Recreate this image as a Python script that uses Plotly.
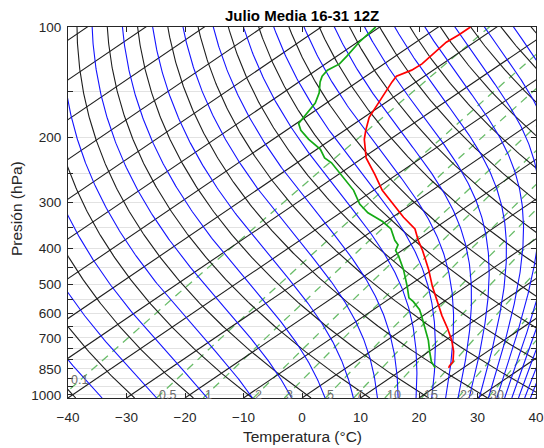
import numpy as np
import plotly.graph_objects as go

# ---------------- text ----------------
TITLE = "Julio Media 16-31 12Z"
X_TITLE = "Temperatura (°C)"
Y_TITLE = "Presión (hPa)"

# ---------------- axes ----------------
x_ticks = [-40, -30, -20, -10, 0, 10, 20, 30, 40]
p_ticks = list(range(100, 1001, 50))
p_labelled = [100, 200, 300, 400, 500, 600, 700, 850, 1000]

# ---------------- sounding ----------------
temp_p = [100, 105, 110, 120, 126, 131, 136, 141, 151, 161, 176, 191, 202, 227, 252,
          278, 303, 329, 354, 380, 405, 456, 507, 558, 609, 660, 711, 762, 813, 833, 845]
temp_T = [-64.5, -64.5, -64.8, -64.0, -63.5, -63.7, -64.8, -64.1, -62.6, -61.1, -59.1,
          -56.4, -54.4, -49.4, -43.7, -38.5, -33.2, -28.1, -23.2, -19.8, -16.5, -10.7,
          -5.8, -1.1, 3.2, 7.4, 11.1, 14.2, 16.7, 17.1, 17.5]

dew_p = [100, 105, 110, 120, 126, 131, 136, 141, 151, 161, 176, 183, 191, 202, 215, 227,
         234, 252, 278, 303, 320, 329, 338, 354, 380, 391, 405, 421, 456, 507, 545, 558,
         587, 609, 660, 711, 762, 813, 845]
dew_Td = [-80.7, -80.2, -79.7, -78.3, -77.6, -78.1, -77.5, -76.4, -73.8, -71.9, -70.4,
          -69.6, -67.5, -63.9, -59.4, -56.5, -54.1, -49.5, -43.4, -38.9, -35.3, -32.9,
          -30.6, -27.3, -23.8, -22.1, -21.1, -19.0, -15.0, -10.1, -6.9, -5.2, -2.1, -0.3,
          3.5, 7.1, 10.1, 13.0, 15.2]

# ---------------- background line families ----------------
isotherms_C = list(range(-130, 41, 10))
dry_theta_C = list(range(-40, 201, 10))
moist_thetae_C = list(range(-35, 196, 10))
mix_ratios = [0.1, 0.5, 1, 2, 3, 5, 7, 10, 15, 22, 30]
mix_labels = ["0.1", "0.5", "1", "2", "3", "5", "7", "10", "15", "22", "30"]

P_BOT = 1020.0
P_TOP = 100.0
SKEW = 92.5
KAPPA = 0.286

p_grid = np.geomspace(P_BOT, P_TOP * 0.98, 220)


def skew_x(T, p):
    return np.asarray(T) + SKEW * np.log10(P_BOT / np.asarray(p, dtype=float))


def es(Tc):
    return 6.112 * np.exp(17.67 * Tc / (Tc + 243.5))


def thetae(TK, p):
    e = np.minimum(es(TK - 273.15), 0.5 * p)
    r = 0.622 * e / (p - e)
    return TK * (1000.0 / p) ** KAPPA * np.exp(2.5e6 * r / (1004.0 * TK))


def moist_T(the, p):
    lo = np.full_like(p, 90.0)
    hi = np.full_like(p, 345.0)
    for _ in range(60):
        mid = 0.5 * (lo + hi)
        f = thetae(mid, p) - the
        hi = np.where(f > 0, mid, hi)
        lo = np.where(f > 0, lo, mid)
    return 0.5 * (lo + hi) - 273.15


def join(curves):
    xs, ys = [], []
    for x, y in curves:
        xs += list(np.round(x, 4)) + [None]
        ys += list(np.round(y, 3)) + [None]
    return xs, ys


iso_curves = [(skew_x(np.full_like(p_grid, T), p_grid), p_grid) for T in isotherms_C]
dry_curves = [(skew_x((th + 273.15) * (p_grid / 1000.0) ** KAPPA - 273.15, p_grid), p_grid)
              for th in dry_theta_C]
moist_curves = [(skew_x(moist_T(th + 273.15, p_grid), p_grid), p_grid) for th in moist_thetae_C]


def mix_Td(r, p):
    e = r * p / (622.0 + r)
    a = np.log(e / 6.112)
    return 243.5 * a / (17.67 - a)


mix_curves = [(skew_x(mix_Td(r, p_grid), p_grid), p_grid) for r in mix_ratios]

fig = go.Figure()

for curves, color, width, dash in [
    (mix_curves, "rgb(105,188,105)", 1.3, "8px,6px"),
    (iso_curves, "rgb(30,30,30)", 1.1, "solid"),
    (dry_curves, "rgb(30,30,30)", 1.1, "solid"),
    (moist_curves, "rgb(20,20,255)", 1.1, "solid"),
]:
    xs, ys = join(curves)
    fig.add_trace(go.Scatter(x=xs, y=ys, mode="lines", hoverinfo="skip",
                             line=dict(color=color, width=width, dash=dash)))

fig.add_trace(go.Scatter(x=skew_x(dew_Td, dew_p), y=dew_p, mode="lines",
                         line=dict(color="rgb(20,170,20)", width=1.7)))
fig.add_trace(go.Scatter(x=skew_x(temp_T, temp_p), y=temp_p, mode="lines",
                         line=dict(color="rgb(255,0,0)", width=1.7)))

# mixing-ratio labels
for r, lab, (mx, mp) in zip(mix_ratios, mix_labels, mix_curves):
    if mx[0] >= -40:
        fig.add_annotation(x=float(mx[0]), y=np.log10(P_BOT), text=lab, showarrow=False,
                           xanchor="left", yanchor="middle", yshift=3, xshift=0,
                           font=dict(size=12.5, color="#6e6e6e"))
    else:
        pc = float(np.interp(-40.0, mx, mp))
        fig.add_annotation(x=-40, y=np.log10(pc), text=lab, showarrow=False,
                           xanchor="left", yanchor="bottom", yshift=2, xshift=1,
                           font=dict(size=12.5, color="#6e6e6e"))

W, H = 544, 448
ML, MR, MT, MB = 68, 8, 27, 50
PW, PH = W - ML - MR, H - MT - MB

fig.add_annotation(xref="paper", yref="paper", x=0.5, y=1 + 12 / PH, text="<b>" + TITLE + "</b>",
                   showarrow=False, xanchor="center", yanchor="middle",
                   font=dict(size=15, color="black"))
fig.add_annotation(xref="paper", yref="paper", x=0.5, y=-(436 - (H - MB)) / PH, text=X_TITLE,
                   showarrow=False, xanchor="center", yanchor="middle",
                   font=dict(size=15.5, color="#262626"))
fig.add_annotation(xref="paper", yref="paper", x=(16 - ML) / PW, y=((H - MB) - 209) / PH,
                   text=Y_TITLE, textangle=-90, showarrow=False, xanchor="center",
                   yanchor="middle", font=dict(size=15.5, color="#262626"))

fig.update_layout(
    width=W, height=H, margin=dict(l=ML, r=MR, t=MT, b=MB, autoexpand=False),
    plot_bgcolor="white", paper_bgcolor="white", showlegend=False,
    font=dict(family="Liberation Sans, Arial, sans-serif", size=13.5, color="#262626"),
)
fig.update_xaxes(range=[-40, 40], tickvals=x_ticks, ticks="inside", ticklen=5,
                 tickcolor="#262626", showline=True, linecolor="#262626", linewidth=1,
                 mirror="ticks", showgrid=False, zeroline=False, ticklabelstandoff=7,
                 automargin=False, tickfont=dict(size=13.5, color="#262626"))
fig.update_yaxes(type="log", range=[np.log10(P_BOT), np.log10(P_TOP)], tickvals=p_ticks,
                 ticktext=[str(p) if p in p_labelled else "" for p in p_ticks],
                 ticks="inside", ticklen=5, tickcolor="#262626", showline=True,
                 linecolor="#262626", linewidth=1, mirror="ticks", showgrid=True,
                 gridcolor="#e2e2e2", gridwidth=1, zeroline=False, ticklabelstandoff=3,
                 automargin=False, tickfont=dict(size=13.5, color="#262626"))

fig.write_html("out.html")
